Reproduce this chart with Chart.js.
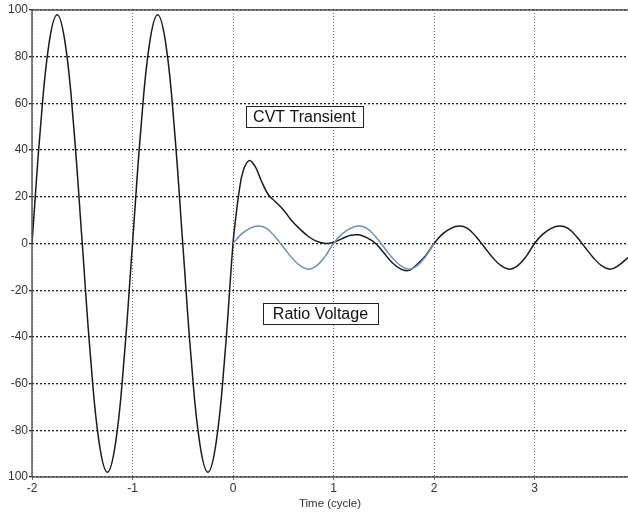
<!DOCTYPE html>
<html>
<head>
<meta charset="utf-8">
<script src="https://cdn.jsdelivr.net/npm/chart.js@4.4.1/dist/chart.umd.min.js"></script>
<style>
  html, body { margin: 0; padding: 0; background: #ffffff; }
  #wrap { width: 628px; height: 515px; }
</style>
</head>
<body>
<div id="wrap"><canvas id="c" width="628" height="515"></canvas></div>
<script>
// ---- Data ----
const preT = [-2,-1.917,-1.833,-1.75,-1.667,-1.583,-1.5,-1.417,-1.333,-1.25,-1.167,-1.083,-1,-0.917,-0.833,-0.75,-0.667,-0.583,-0.5,-0.417,-0.333,-0.25,-0.167,-0.083,0];
const preV = [0,49,85,98,85,49,0,-49,-85,-98,-85,-49,0,49,85,98,85,49,0,-49,-85,-98,-85,-49,0];

const cvtT = [0,0.03,0.06,0.1,0.16,0.22,0.28,0.35,0.42,0.5,0.58,0.67,0.75,0.83,0.92,1.0,1.08,1.17,1.25,1.33,1.42,1.5,1.58,1.67,1.75,1.83,1.92,2.0,2.083,2.167,2.25,2.333,2.417,2.5,2.583,2.667,2.75,2.833,2.917,3.0,3.083,3.167,3.25,3.333,3.417,3.5,3.583,3.667,3.75,3.833,3.93];
const cvtV = [0,12,22,31,35.5,33,27,21,18,14.5,10,6,3,1,0,0.5,2,3.5,3.7,2.5,0,-4,-8,-11,-11.5,-9,-5,0,4,6.5,7.5,6.5,3,-1.5,-6,-9.5,-11,-9.5,-5.5,0,4,6.5,7.5,6.5,3,-1.5,-6,-9.5,-11,-9.5,-6];

const ratioT = [0,0.083,0.167,0.25,0.333,0.417,0.5,0.583,0.667,0.75,0.833,0.917,1.0,1.083,1.167,1.25,1.333,1.417,1.5,1.583,1.667,1.75,1.833,1.917,2.0];
const ratioV = [0,4,6.5,7.5,6.5,3,-1.5,-6,-9.5,-11,-9.5,-5.5,0,4,6.5,7.5,6.5,3,-1.5,-6,-9.5,-11,-9.5,-5.5,0];

const xTicks = [-2,-1,0,1,2,3];
const yTicks = [100,80,60,40,20,0,-20,-40,-60,-80,-100];
const yTickLabels = ['100','80','60','40','20','0','-20','-40','-60','-80','100'];

const annotations = [
  { text: 'CVT Transient', x: 0.71, y: 54.5, pad: 14 },
  { text: 'Ratio Voltage', x: 0.87, y: -29.8, pad: 20 }
];

const xTitle = 'Time (cycle)';
const xMin = -2, xMax = 3.93, yMin = -100, yMax = 100;

// ---- Build datasets ----
const blackPts = preT.map((t, i) => ({ x: t, y: preV[i] }))
  .concat(cvtT.slice(1).map((t, i) => ({ x: t, y: cvtV[i + 1] })));
const bluePts = ratioT.map((t, i) => ({ x: t, y: ratioV[i] }));

const FONT = '"Liberation Sans", Arial, sans-serif';

const frame = {
  id: 'frame',
  afterDatasetsDraw(chart) {
    const { ctx, chartArea: a } = chart;
    ctx.save();
    ctx.strokeStyle = '#555';
    ctx.lineWidth = 1.5;
    ctx.beginPath();
    ctx.moveTo(a.left, a.bottom);
    ctx.lineTo(a.left, a.top);
    ctx.lineTo(a.right, a.top);
    ctx.moveTo(a.left, a.bottom);
    ctx.lineTo(a.right, a.bottom);
    ctx.stroke();
    // annotation boxes
    const xs = chart.scales.x, ys = chart.scales.y;
    ctx.font = '16px ' + FONT;
    ctx.textAlign = 'center';
    ctx.textBaseline = 'middle';
    annotations.forEach(an => {
      const cx = xs.getPixelForValue(an.x), cy = ys.getPixelForValue(an.y);
      const w = Math.round(ctx.measureText(an.text).width + an.pad);
      const h = 21;
      const lx = Math.round(cx - w / 2), ty = Math.round(cy - h / 2);
      ctx.fillStyle = '#fff';
      ctx.fillRect(lx, ty, w, h);
      ctx.strokeStyle = '#222';
      ctx.lineWidth = 1;
      ctx.strokeRect(lx + 0.5, ty + 0.5, w, h);
      ctx.fillStyle = '#111';
      ctx.fillText(an.text, cx, cy + 1.5);
    });
    ctx.restore();
  }
};

new Chart(document.getElementById('c'), {
  type: 'line',
  data: {
    datasets: [
      { label: 'Ratio Voltage', data: bluePts, borderColor: '#6a8fb8', borderWidth: 1.5,
        pointRadius: 0, tension: 0.4, order: 0 },
      { label: 'CVT Transient', data: blackPts, borderColor: '#1a1a1a', borderWidth: 1.5,
        pointRadius: 0, tension: 0.4, order: 1 }
    ]
  },
  options: {
    responsive: false,
    animation: false,
    layout: { padding: { top: 10, right: 0, left: 0, bottom: 0 } },
    plugins: { legend: { display: false }, tooltip: { enabled: false } },
    scales: {
      x: {
        type: 'linear', min: xMin, max: xMax,
        afterBuildTicks: s => { s.ticks = xTicks.map(v => ({ value: v })); },
        afterFit: s => { s.height = 38; },
        border: { display: false, dash: [1, 2] },
        grid: { color: '#777', lineWidth: 1, tickLength: 3, drawTicks: true },
        ticks: { color: '#333', font: { family: FONT, size: 12 },
                 padding: 1, maxRotation: 0, callback: v => String(v) },
        title: { display: true, text: xTitle, color: '#333', padding: { top: 1, bottom: 4 },
                 font: { family: FONT, size: 11.5 } }
      },
      y: {
        type: 'linear', min: yMin, max: yMax,
        afterBuildTicks: s => { s.ticks = yTicks.map(v => ({ value: v })); },
        afterFit: s => { s.width = 32; },
        border: { display: false, dash: [2, 2] },
        grid: { color: '#222', lineWidth: 1.3, tickLength: 3 },
        ticks: { color: '#333', font: { family: FONT, size: 12 },
                 padding: 1, callback: v => yTickLabels[yTicks.indexOf(v)] }
      }
    }
  },
  plugins: [frame]
});
</script>
</body>
</html>
